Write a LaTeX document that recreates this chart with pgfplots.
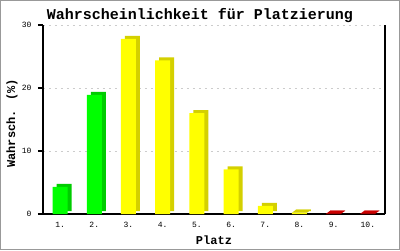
\documentclass[border=0pt]{standalone}
\usepackage{fontspec}
\setmainfont{Liberation Mono}
\usepackage{pgfplots}
\pgfplotsset{compat=1.18}
\definecolor{gfront}{RGB}{0,255,0}
\definecolor{gside}{RGB}{0,204,0}
\definecolor{yfront}{RGB}{255,255,0}
\definecolor{yside}{RGB}{212,208,0}
\definecolor{rfront}{RGB}{255,0,0}
\definecolor{rside}{RGB}{204,0,0}
\definecolor{bordergray}{RGB}{153,153,153}
\pgfdeclareplotmark{topface}{%
  \pgfpathmoveto{\pgfpoint{-7.5pt}{0pt}}%
  \pgfpathlineto{\pgfpoint{7.5pt}{0pt}}%
  \pgfpathlineto{\pgfpoint{11.5pt}{3pt}}%
  \pgfpathlineto{\pgfpoint{-3.5pt}{3pt}}%
  \pgfpathclose
  \pgfusepathqfill}
\begin{document}
\begin{tikzpicture}[x=1pt,y=1pt]
\useasboundingbox (0,0) rectangle (400,250);
\fill[white] (0,0) rectangle (400,250);
\draw[bordergray, line width=1pt] (0.5,0.5) rectangle (399.5,249.5);
\begin{axis}[
  at={(43pt,36pt)}, anchor=south west,
  scale only axis, width=342pt, height=189pt,
  xmin=0.5, xmax=10.5, ymin=0, ymax=30,
  axis x line*=bottom, axis y line*=box,
  axis line style={line width=1.5pt, black},
  ytick={0,10,20,30}, ytick pos=left,
  tick align=outside, major tick length=5pt,
  major y tick style={line width=1.5pt, black},
  xtick={1,2,3,4,5,6,7,8,9,10},
  xticklabels={1.,2.,3.,4.,5.,6.,7.,8.,9.,10.},
  major x tick style={draw=none},
  ymajorgrids,
  grid style={gray!40, line width=0.8pt, dash pattern=on 2pt off 4pt},
  /pgf/number format/assume math mode=true,
  ticklabel style={font=\fontsize{8}{9}\selectfont},
  yticklabel style={xshift=-3pt},
  xticklabel style={yshift=0pt},
  xlabel={Platz},
  ylabel={Wahrsch. (\%)},
  label style={font=\bfseries\fontsize{12}{13}\selectfont},
  xlabel style={at={(axis description cs:0.5,0)}, anchor=center, yshift=-26pt},
  ylabel style={at={(axis description cs:-0.0906,0.48)}, anchor=center},
  title={Wahrscheinlichkeit für Platzierung},
  title style={font=\bfseries\fontsize{15}{16}\selectfont, at={(axis description cs:0.459,1)}, anchor=center, yshift=3pt},
  clip=false,
]
% green
\addplot[ybar, bar width=15pt, bar shift=0pt, fill=gside, draw=none, xshift=4pt, yshift=3pt] coordinates {(1,4.3) (2,18.9)};
\addplot[ybar, bar width=15pt, bar shift=0pt, fill=gfront, draw=none] coordinates {(1,4.3) (2,18.9)};
% yellow
\addplot[ybar, bar width=15pt, bar shift=0pt, fill=yside, draw=none, xshift=4pt, yshift=3pt] coordinates {(3,27.8) (4,24.4) (5,16.0) (6,7.1) (7,1.3) (8,0.2)};
\addplot[ybar, bar width=15pt, bar shift=0pt, fill=yfront, draw=none] coordinates {(3,27.8) (4,24.4) (5,16.0) (6,7.1) (7,1.3) (8,0.2)};
\addplot[only marks, mark=topface, mark options={fill=yside, draw=none}] coordinates {(8,0.2)};
% red
\addplot[ybar, bar width=15pt, bar shift=0pt, fill=rside, draw=none, xshift=4pt, yshift=3pt] coordinates {(9,0.05) (10,0.05)};
\addplot[ybar, bar width=15pt, bar shift=0pt, fill=rfront, draw=none] coordinates {(9,0.05) (10,0.05)};
\addplot[only marks, mark=topface, mark options={fill=rside, draw=none}] coordinates {(9,0.05) (10,0.05)};
\end{axis}
\end{tikzpicture}
\end{document}
